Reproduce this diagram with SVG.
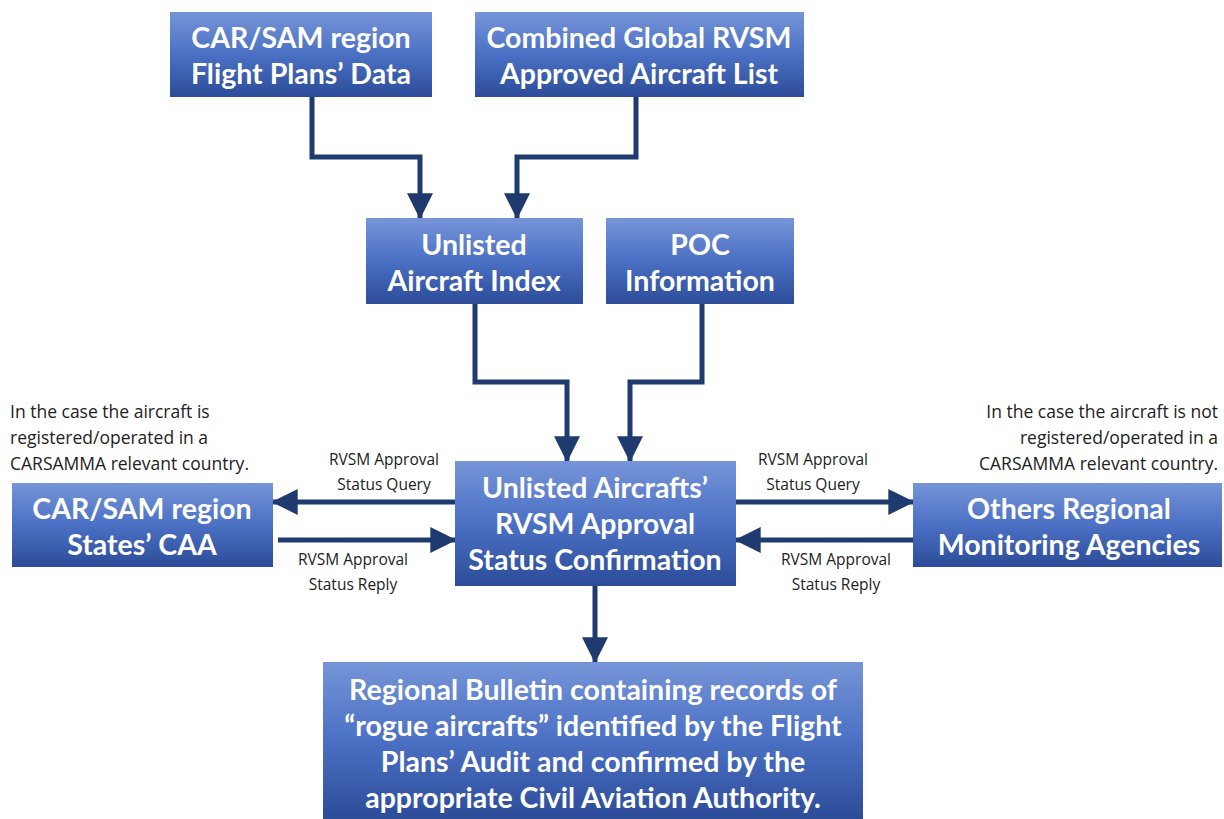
<svg xmlns="http://www.w3.org/2000/svg" width="1224" height="819" viewBox="0 0 1224 819">
<defs>
<linearGradient id="g" x1="0" y1="0" x2="0" y2="1">
<stop offset="0" stop-color="#7695d8"/>
<stop offset="0.5" stop-color="#4b70c4"/>
<stop offset="1" stop-color="#2c4c98"/>
</linearGradient>
<marker id="ah" viewBox="0 0 10 10" refX="9.5" refY="5" markerWidth="5.2" markerHeight="5.2" markerUnits="strokeWidth" orient="auto">
<path d="M0,0 L10,5 L0,10 Z" fill="#1f3a6e"/>
</marker>
<style>
.box{fill:url(#g);}
.t{font-family:Lato,"Open Sans","Liberation Sans",sans-serif;font-weight:bold;font-size:28.5px;fill:#ffffff;text-anchor:middle;}
.s{font-family:"Open Sans","Liberation Sans",sans-serif;font-size:15.5px;fill:#222222;}
.n{font-size:17.5px;}
.c{text-anchor:middle;}
.conn path{fill:none;stroke:#1f3a6e;stroke-width:5;marker-end:url(#ah);}
</style>
</defs>
<rect width="1224" height="819" fill="#ffffff"/>

<g id="conn" class="conn">
<path d="M312,97 V157 H420 V218"/>
<path d="M636,97 V157 H517 V218"/>
<path d="M475,304 V382 H567 V461"/>
<path d="M702,304 V382 H630 V461"/>
<path d="M595,586 V662"/>
<path d="M455,502 H273"/>
<path d="M278,540 H455"/>
<path d="M736,502 H913"/>
<path d="M913,540 H736"/>
</g>

<g id="n1">
<rect class="box" x="170" y="12" width="262" height="85"/>
<text class="t" x="301" y="48">CAR/SAM region</text>
<text class="t" x="301" y="84">Flight Plans’ Data</text>
</g>
<g id="n2">
<rect class="box" x="475" y="12" width="329" height="85"/>
<text class="t" x="639" y="48">Combined Global RVSM</text>
<text class="t" x="639" y="84">Approved Aircraft List</text>
</g>
<g id="n3">
<rect class="box" x="366" y="218" width="217" height="86"/>
<text class="t" x="474" y="255">Unlisted</text>
<text class="t" x="474" y="291">Aircraft Index</text>
</g>
<g id="n4">
<rect class="box" x="606" y="218" width="188" height="86"/>
<text class="t" x="700" y="255">POC</text>
<text class="t" x="700" y="291">Information</text>
</g>
<g id="n5">
<rect class="box" x="455" y="461" width="281" height="125"/>
<text class="t" x="595" y="498">Unlisted Aircrafts’</text>
<text class="t" x="595" y="534">RVSM Approval</text>
<text class="t" x="595" y="570">Status Confirmation</text>
</g>
<g id="n6">
<rect class="box" x="12" y="483" width="261" height="84"/>
<text class="t" x="142" y="519">CAR/SAM region</text>
<text class="t" x="142" y="555">States’ CAA</text>
</g>
<g id="n7">
<rect class="box" x="913" y="483" width="309" height="84"/>
<text class="t" x="1069" y="519">Others Regional</text>
<text class="t" x="1069" y="555">Monitoring Agencies</text>
</g>
<g id="n8">
<rect class="box" x="323" y="662" width="540" height="157"/>
<text class="t" x="593" y="700">Regional Bulletin containing records of</text>
<text class="t" x="593" y="736">“rogue aircrafts” identified by the Flight</text>
<text class="t" x="593" y="772">Plans’ Audit and confirmed by the</text>
<text class="t" x="593" y="808">appropriate Civil Aviation Authority.</text>
</g>

<g id="labels">
<text class="s n" x="10" y="418">In the case the aircraft is</text>
<text class="s n" x="10" y="444">registered/operated in a</text>
<text class="s n" x="10" y="470">CARSAMMA relevant country.</text>
<text class="s n" x="1218" y="418" text-anchor="end">In the case the aircraft is not</text>
<text class="s n" x="1218" y="444" text-anchor="end">registered/operated in a</text>
<text class="s n" x="1218" y="470" text-anchor="end">CARSAMMA relevant country.</text>
<text class="s c" x="384" y="465">RVSM Approval</text>
<text class="s c" x="384" y="490">Status Query</text>
<text class="s c" x="353" y="565">RVSM Approval</text>
<text class="s c" x="353" y="590">Status Reply</text>
<text class="s c" x="813" y="465">RVSM Approval</text>
<text class="s c" x="813" y="490">Status Query</text>
<text class="s c" x="836" y="565">RVSM Approval</text>
<text class="s c" x="836" y="590">Status Reply</text>
</g>
</svg>
